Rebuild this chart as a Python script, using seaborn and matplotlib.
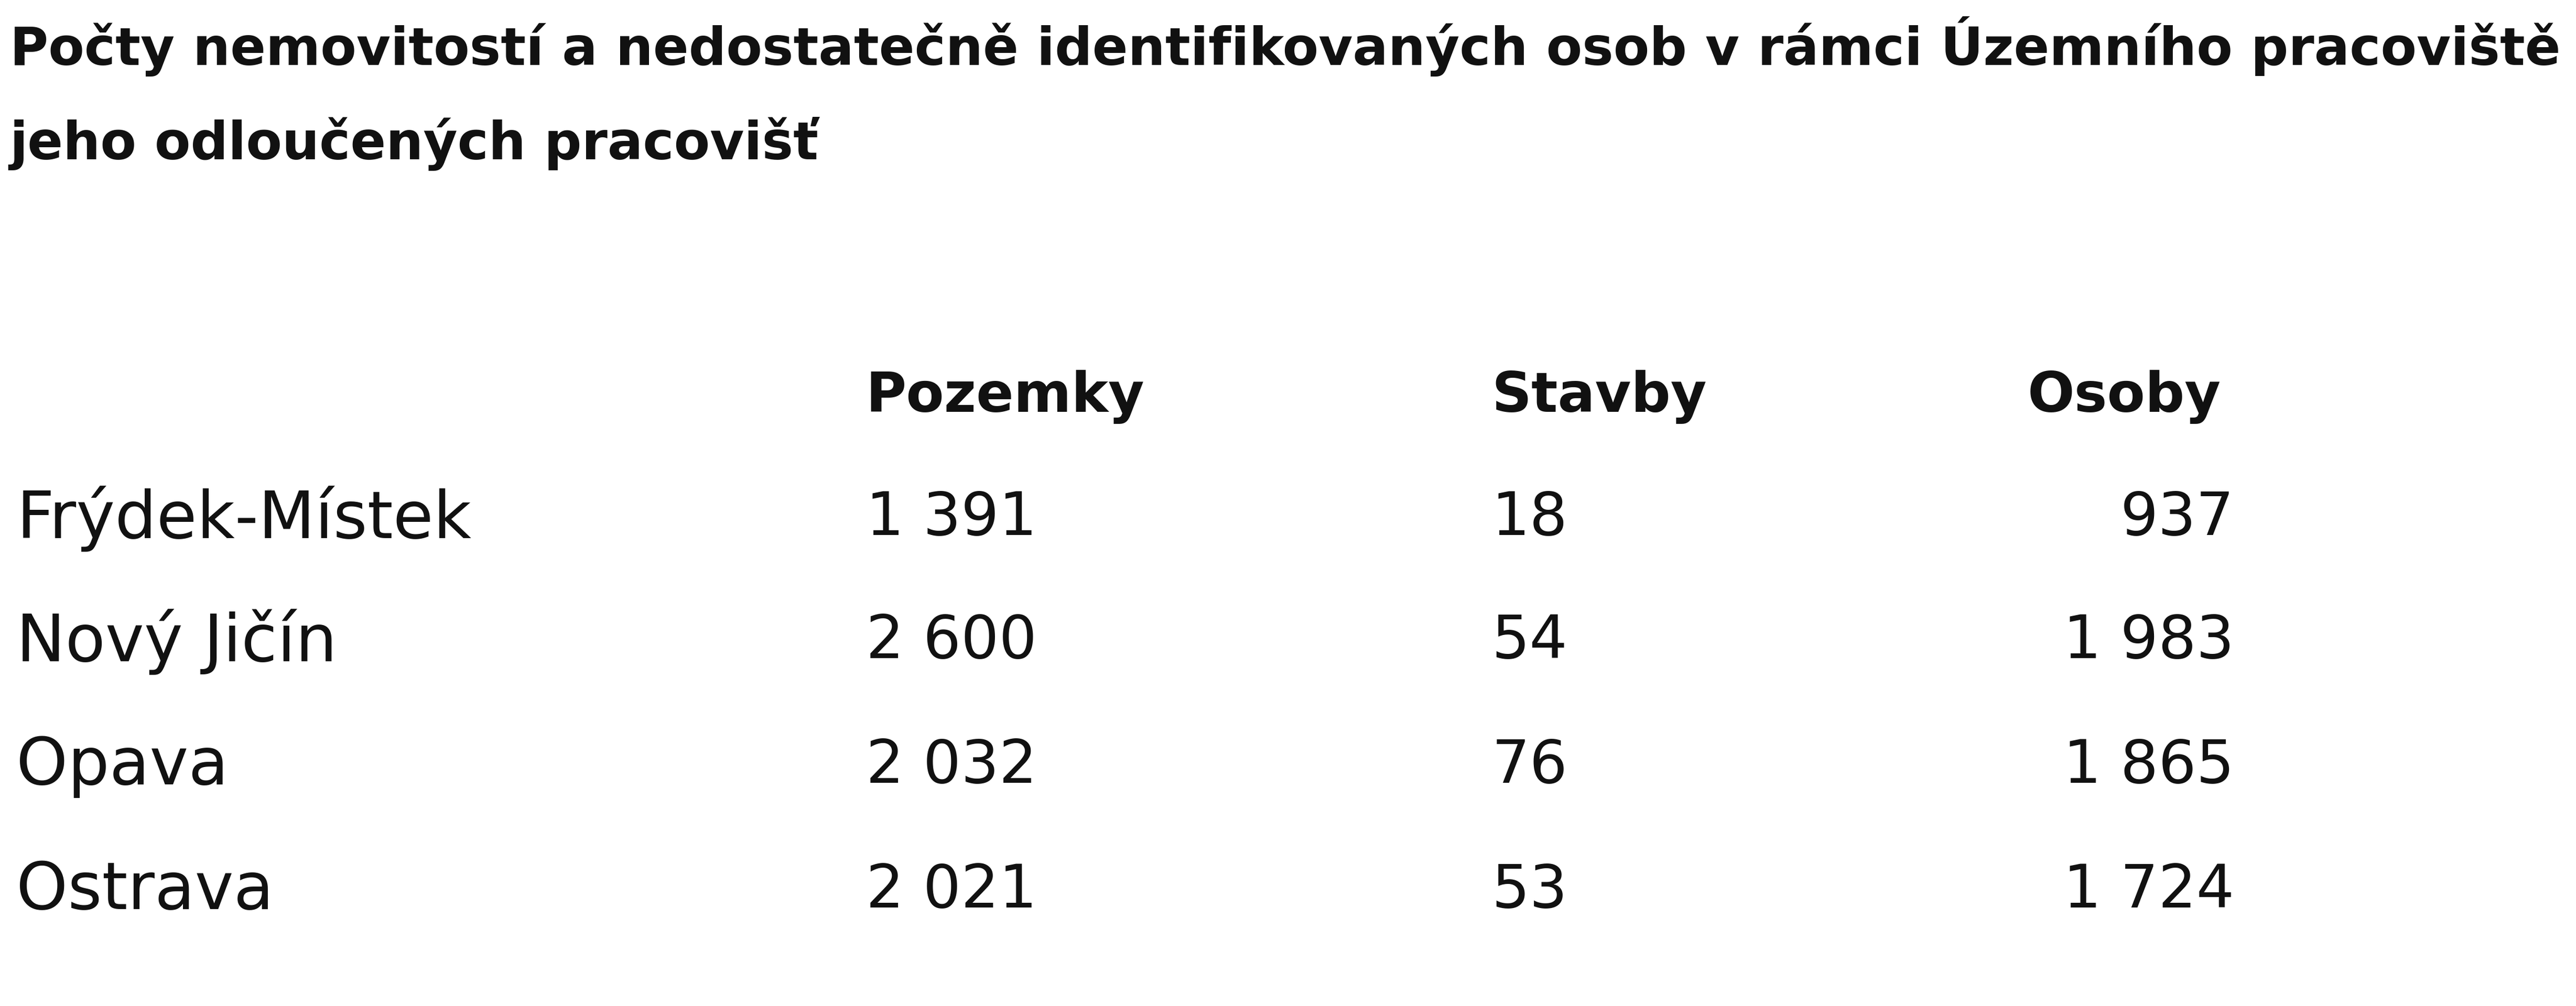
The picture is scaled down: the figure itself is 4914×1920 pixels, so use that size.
import matplotlib
matplotlib.use("Agg")
from matplotlib import pyplot as plt
import seaborn as sns

title = ("Počty nemovitostí a nedostatečně identifikovaných osob v rámci Územního pracoviště Ostrava a\n"
         "jeho odloučených pracovišť")
columns = ["Pozemky", "Stavby", "Osoby"]
offices = ["Frýdek-Místek", "Nový Jičín", "Opava", "Ostrava"]
pozemky = [1391, 2600, 2032, 2021]
stavby = [18, 54, 76, 53]
osoby = [937, 1983, 1865, 1724]


def fmt(v):
    # Czech thousands separator (space)
    return "{:,}".format(v).replace(",", " ")


sns.set_theme(style="white")
plt.rcParams["font.family"] = ["DejaVu Sans"]

W, H = 1568, 613  # reference layout units
fig = plt.figure(figsize=(49.14, 19.2), dpi=100)
ax = fig.add_axes([0, 0, 1, 1])
ax.set_xlim(0, W)
ax.set_ylim(H, 0)
ax.axis("off")

ax.text(6, 10, title, fontsize=72, fontweight="bold",
        va="top", ha="left", linespacing=1.95, color="#111111")

col_x = [527, 908, 1360]
col_ha = ["left", "left", "right"]
head_x = [527, 908, 1352]
for x, ha, name in zip(head_x, col_ha, columns):
    ax.text(x, 242, name, fontsize=76, fontweight="bold",
            ha=ha, va="center", color="#111111")

row_y = [316, 391, 467, 543]
for y, office, a, b, c in zip(row_y, offices, pozemky, stavby, osoby):
    ax.text(10, y, office, fontsize=90, ha="left", va="center", color="#111111")
    for x, ha, v in zip(col_x, col_ha, (a, b, c)):
        ax.text(x, y, fmt(v), fontsize=82, ha=ha, va="center", color="#111111")

fig.savefig("out.png", dpi=100, facecolor="white")
